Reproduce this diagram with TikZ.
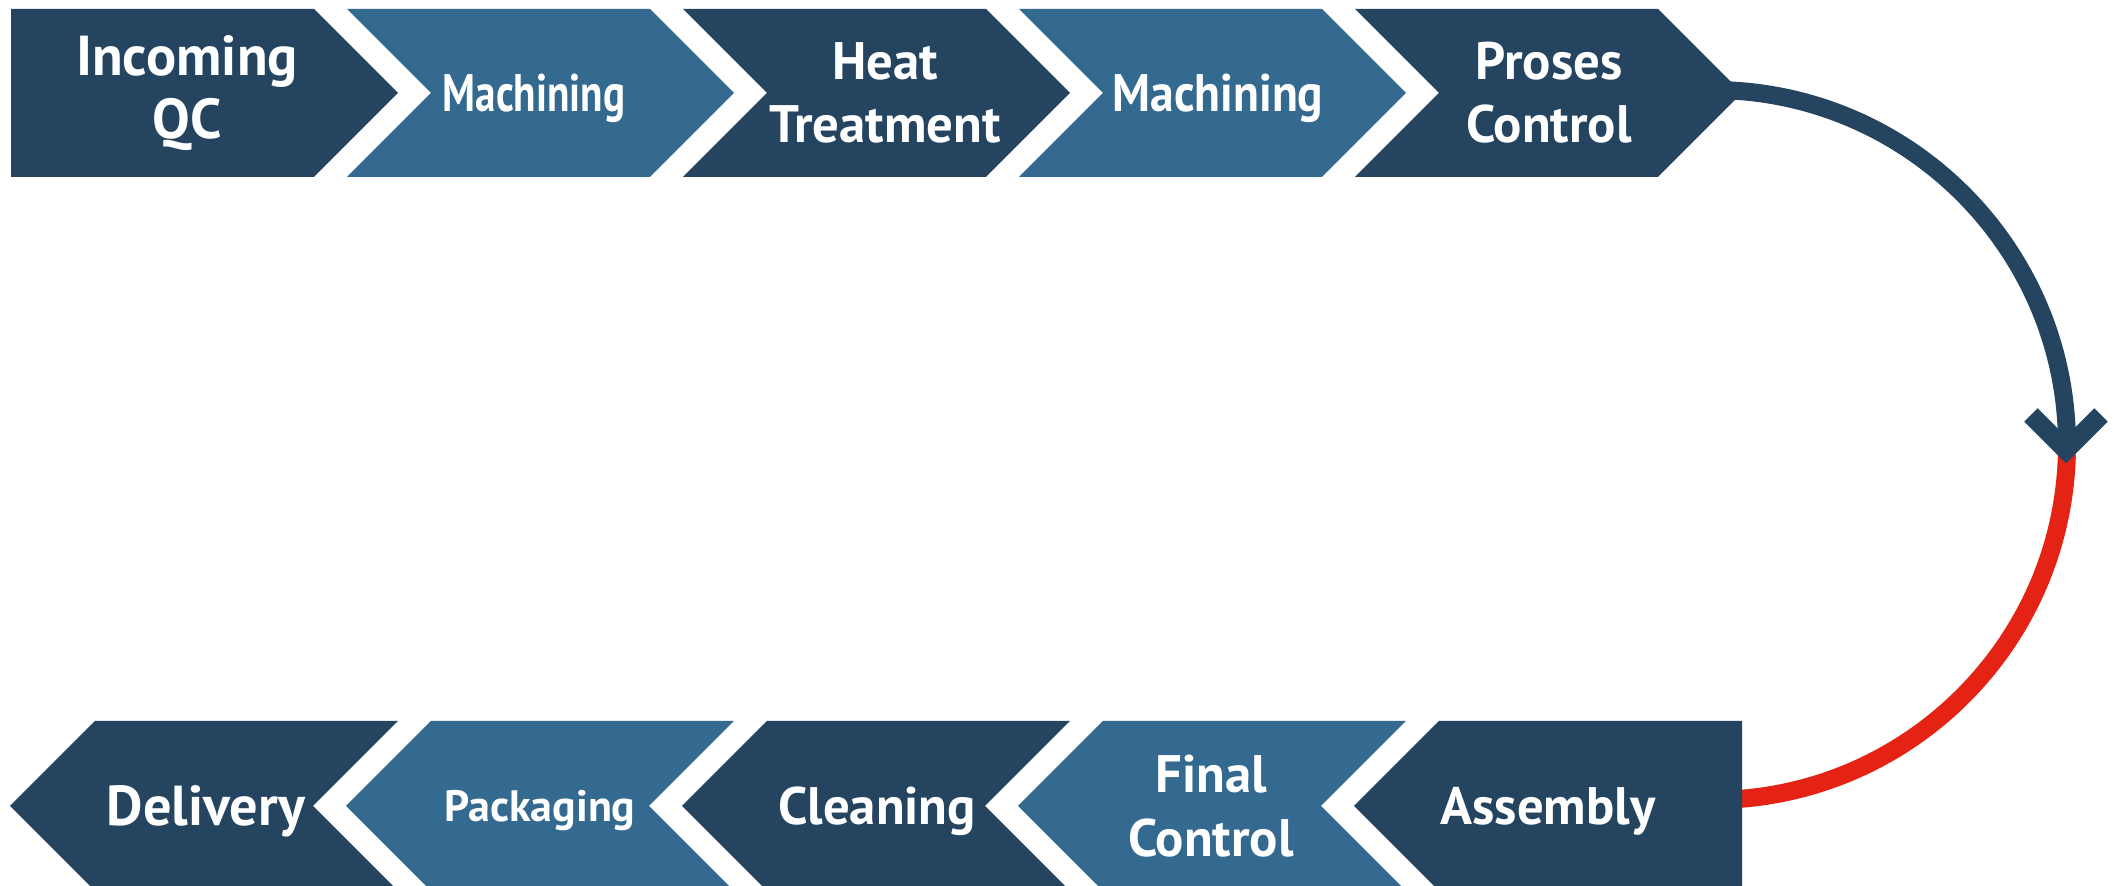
\documentclass[tikz,border=0pt]{standalone}
\usepackage{fontspec}
\setmainfont{PT Sans}
\newfontfamily\narrowA[FakeStretch=0.78]{PT Sans}
\newfontfamily\narrowB[FakeStretch=0.9]{PT Sans}
\definecolor{navy}{RGB}{36,68,96}
\definecolor{steel}{RGB}{52,105,144}
\definecolor{flowred}{RGB}{228,35,21}
\begin{document}
\begin{tikzpicture}[x=0.01cm,y=0.01cm,
  lbl/.style={text=white, font=\bfseries\fontsize{15}{18}\selectfont, align=center, inner sep=0pt},
  oneline/.style={text height=10.5pt, text depth=0pt},
  darkfill/.style={fill=navy},
  lightfill/.style={fill=steel}]
\useasboundingbox (0,0) rectangle (2114,886);
% connector arc (behind the boxes)
\coordinate (arcC) at (1712,441);
\coordinate (pcTip) at (1742,793);
\coordinate (asEdge) at (1742,80);
\draw[navy, line width=0.18cm] (arcC) ++(88:355) arc[start angle=88, end angle=-1.5, radius=355];
\draw[flowred, line width=0.18cm] (arcC) ++(-1.5:355) arc[start angle=-1.5, end angle=-88, radius=355];
% top row: pointing right
\foreach \L/\st [count=\i] in {11/darkfill,347/lightfill,683/darkfill,1019/lightfill,1355/darkfill}{
  \ifnum\i=1
    \fill[\st] (\L,877) -- ({\L+303},877) -- ({\L+387},793) -- ({\L+303},709) -- (\L,709) -- cycle;
  \else
    \fill[\st] (\L,877) -- ({\L+303},877) -- ({\L+387},793) -- ({\L+303},709) -- (\L,709) -- ({\L+84},793) -- cycle;
  \fi
}
% bottom row: pointing left
\foreach \R/\st [count=\i] in {1742/darkfill,1406/lightfill,1070/darkfill,734/lightfill,398/darkfill}{
  \ifnum\i=1
    \fill[\st] (\R,165) -- ({\R-303},165) -- ({\R-388},80) -- ({\R-303},-5) -- (\R,-5) -- cycle;
  \else
    \fill[\st] (\R,165) -- ({\R-303},165) -- ({\R-388},80) -- ({\R-303},-5) -- (\R,-5) -- ({\R-85},80) -- cycle;
  \fi
}
% arrow head
\coordinate (ahL) at (2031,471);
\coordinate (ahT) at (2066,436);
\coordinate (ahR) at (2101,471);
\draw[navy, line width=0.19cm, line join=miter, line cap=butt] (ahL) -- (ahT) -- (ahR);
% labels
\node[lbl, font=\bfseries\fontsize{16}{18}\selectfont] (t1) at (187,793) {Incoming\\QC};
\node[lbl, oneline, font=\narrowA\bfseries\fontsize{15}{18}\selectfont] (t2) at (534,793) {Machining};
\node[lbl] (t3) at (885,793) {Heat\\Treatment};
\node[lbl, oneline, font=\narrowB\bfseries\fontsize{15}{18}\selectfont] (t4) at (1218,793) {Machining};
\node[lbl] (t5) at (1549,793) {Proses\\Control};
\node[lbl, oneline, font=\bfseries\fontsize{16}{18}\selectfont, text height=11.2pt] (b1) at (206,80) {Delivery};
\node[lbl, oneline, font=\bfseries\fontsize{12.5}{15}\selectfont, text height=8.8pt] (b2) at (540,80) {Packaging};
\node[lbl, oneline] (b3) at (877,80) {Cleaning};
\node[lbl] (b4) at (1211,80) {Final\\Control};
\node[lbl, oneline] (b5) at (1548,80) {Assembly};
\end{tikzpicture}
\end{document}
